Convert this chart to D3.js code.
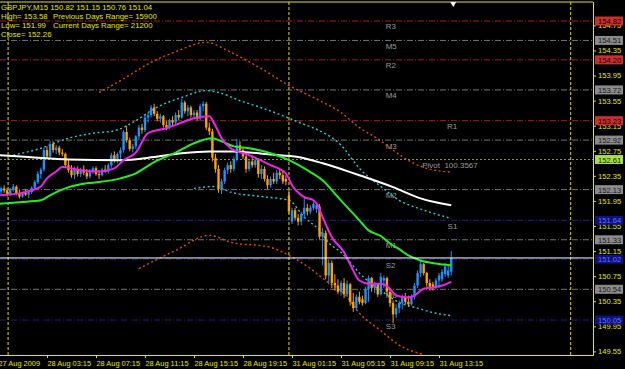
<!DOCTYPE html>
<html>
<head>
<meta charset="utf-8">
<script src="https://cdnjs.cloudflare.com/ajax/libs/d3/7.8.5/d3.min.js"></script>
<style>
html, body { margin: 0; padding: 0; background: #000; }
svg { display: block; }
text { font-family: "Liberation Sans", Arial, sans-serif; }
</style>
</head>
<body>
<svg width="625" height="369"></svg>
<script>
// GBPJPY M15 candles, bar 0 = 27 Aug 23:15, bar 148 = 31 Aug 14:15
var opens = [152.22,152.10,152.15,152.12,152.05,152.14,152.18,152.07,152.02,152.08,
  152.05,152.09,152.16,152.25,152.38,152.45,152.76,152.66,152.86,152.76,
  152.80,152.72,152.70,152.52,152.44,152.36,152.46,152.38,152.45,152.40,
  152.34,152.43,152.47,152.38,152.36,152.45,152.42,152.52,152.68,152.60,
  152.70,152.76,153.05,152.92,152.78,152.82,152.98,153.12,153.08,153.28,
  153.32,153.44,153.34,153.26,153.30,153.16,153.12,153.24,153.20,153.32,
  153.28,153.52,153.38,153.44,153.32,153.36,153.26,153.46,153.50,153.12,
  153.06,152.64,152.46,152.14,152.26,152.44,152.52,152.46,152.62,152.84,
  152.76,152.66,152.46,152.58,152.52,152.60,152.38,152.46,152.30,152.20,
  152.30,152.26,152.40,152.36,152.30,152.04,151.62,151.80,151.68,151.62,
  151.74,151.84,151.78,151.84,151.82,151.86,151.38,151.44,150.76,150.96,
  150.64,150.60,150.50,150.64,150.46,150.62,150.34,150.24,150.42,150.38,
  150.32,150.54,150.72,150.56,150.62,150.46,150.68,150.72,150.50,150.32,
  150.14,150.24,150.32,150.42,150.34,150.30,150.42,150.60,150.80,150.94,
  150.80,150.64,150.62,150.56,150.68,150.70,150.78,150.76,150.82];
var highs = [152.26,152.18,152.20,152.16,152.16,152.22,152.20,152.12,152.10,152.14,
  152.11,152.18,152.28,152.42,152.48,152.80,152.82,152.90,152.90,152.84,
  152.83,152.78,152.72,152.60,152.52,152.50,152.50,152.48,152.52,152.46,
  152.46,152.50,152.50,152.44,152.48,152.52,152.55,152.72,152.74,152.72,
  152.80,153.08,153.15,152.96,152.86,153.00,153.16,153.18,153.32,153.36,
  153.48,153.50,153.38,153.34,153.32,153.22,153.26,153.30,153.36,153.40,
  153.58,153.55,153.48,153.47,153.40,153.40,153.50,153.54,153.53,153.20,
  153.10,152.70,152.52,152.30,152.48,152.56,152.58,152.66,152.94,152.90,
  152.80,152.72,152.62,152.66,152.64,152.63,152.52,152.50,152.36,152.34,
  152.40,152.44,152.46,152.42,152.36,152.12,151.84,151.84,151.74,151.78,
  152.00,151.90,151.88,151.94,151.92,151.90,151.52,151.48,151.02,151.00,
  150.78,150.70,150.68,150.72,150.68,150.64,150.48,150.46,150.50,150.44,
  150.58,150.76,150.74,150.66,150.64,150.80,150.76,150.74,150.56,150.36,
  150.30,150.36,150.46,150.48,150.44,150.46,150.64,150.84,151.00,150.96,
  150.82,150.70,150.66,150.72,150.80,150.86,150.96,150.92,151.15];
var lows = [152.07,152.06,152.08,152.02,152.03,152.10,152.04,151.99,152.00,152.03,
  152.00,152.06,152.13,152.22,152.30,152.42,152.62,152.62,152.72,152.70,
  152.68,152.66,152.48,152.40,152.32,152.30,152.34,152.33,152.36,152.30,
  152.31,152.38,152.35,152.30,152.34,152.40,152.38,152.48,152.56,152.55,
  152.62,152.72,152.88,152.74,152.72,152.78,152.92,153.02,153.05,153.20,
  153.28,153.30,153.22,153.20,153.12,153.08,153.10,153.16,153.18,153.24,
  153.26,153.34,153.30,153.28,153.26,153.22,153.24,153.38,153.08,153.00,
  152.58,152.40,152.08,152.06,152.22,152.38,152.40,152.42,152.58,152.72,
  152.62,152.40,152.42,152.48,152.48,152.32,152.30,152.26,152.14,152.16,
  152.22,152.22,152.30,152.22,152.20,151.74,151.58,151.64,151.56,151.56,
  151.68,151.72,151.74,151.80,151.76,151.34,150.92,150.70,150.62,150.56,
  150.52,150.46,150.44,150.40,150.42,150.28,150.18,150.20,150.30,150.28,
  150.30,150.34,150.50,150.48,150.42,150.44,150.56,150.44,150.26,150.00,
  150.08,150.16,150.22,150.30,150.26,150.28,150.38,150.56,150.74,150.76,
  150.58,150.52,150.52,150.54,150.56,150.66,150.74,150.72,150.76];
var closes = [152.10,152.15,152.12,152.05,152.14,152.18,152.07,152.02,152.08,152.05,
  152.09,152.16,152.25,152.38,152.45,152.76,152.66,152.86,152.76,152.80,
  152.72,152.70,152.52,152.44,152.36,152.46,152.38,152.45,152.40,152.34,
  152.43,152.47,152.38,152.36,152.45,152.42,152.52,152.68,152.60,152.70,
  152.76,153.05,152.92,152.78,152.82,152.98,153.12,153.08,153.28,153.32,
  153.44,153.34,153.26,153.30,153.16,153.12,153.24,153.20,153.32,153.28,
  153.52,153.38,153.44,153.32,153.36,153.26,153.46,153.50,153.12,153.06,
  152.64,152.46,152.14,152.26,152.44,152.52,152.46,152.62,152.84,152.76,
  152.66,152.46,152.58,152.52,152.60,152.38,152.46,152.30,152.20,152.30,
  152.26,152.40,152.36,152.26,152.26,151.78,151.80,151.68,151.62,151.74,
  151.84,151.78,151.84,151.90,151.88,151.38,151.44,150.76,150.96,150.64,
  150.60,150.50,150.64,150.46,150.62,150.34,150.24,150.42,150.34,150.32,
  150.54,150.72,150.56,150.62,150.46,150.74,150.72,150.50,150.32,150.14,
  150.24,150.32,150.42,150.34,150.30,150.42,150.60,150.80,150.94,150.80,
  150.64,150.58,150.56,150.68,150.76,150.82,150.90,150.84,151.04];

// indicator lines, read as [bar, price]
var maFast = [[0,152.04],[7,152.07],[11,152.12],[14,152.18],[16,152.31],[19,152.42],[21,152.49],[27,152.44],[33,152.42],[38,152.47],[41,152.60],[45,152.72],[49,153.03],[55,153.11],[60,153.20],[64,153.27],[69,153.30],[71,153.15],[73,152.95],[76,152.79],[82,152.68],[89,152.52],[94,152.39],[96,152.20],[100,152.01],[103,151.96],[104,151.91],[106,151.69],[109,151.37],[113,151.13],[115,150.94],[118,150.68],[121,150.63],[125,150.63],[128,150.55],[130,150.44],[134,150.41],[136,150.44],[139,150.55],[142,150.57],[145,150.60],[148,150.66]];
var maMid = [[0,151.90],[7,151.93],[14,151.96],[17,152.04],[22,152.15],[29,152.23],[33,152.25],[40,152.31],[45,152.39],[51,152.57],[58,152.72],[64,152.87],[70,152.95],[73,152.90],[77,152.82],[82,152.79],[89,152.71],[95,152.60],[102,152.41],[106,152.28],[111,152.01],[115,151.80],[118,151.64],[121,151.48],[125,151.39],[128,151.27],[131,151.18],[134,151.08],[138,151.00],[143,150.95],[148,150.92]];
var maSlow = [[0,152.68],[10,152.65],[23,152.61],[40,152.60],[51,152.65],[60,152.71],[69,152.74],[77,152.74],[89,152.69],[98,152.65],[106,152.55],[115,152.41],[118,152.36],[129,152.17],[138,151.99],[148,151.88]];
var envInnerUp = [[5,152.68],[14,152.79],[23,152.95],[31,153.03],[38,153.07],[45,153.23],[51,153.42],[60,153.60],[68,153.71],[72,153.68],[79,153.55],[87,153.42],[95,153.27],[100,153.17],[105,153.07],[112,152.84],[118,152.47],[125,152.18],[131,151.96],[138,151.82],[148,151.67]];
var envInnerDn = [[64,152.15],[71,152.18],[76,152.09],[86,152.02],[95,151.96],[100,151.69],[105,151.48],[108,151.28],[112,151.13],[115,150.97],[118,150.80],[125,150.52],[131,150.33],[137,150.24],[142,150.17],[148,150.12]];
var envOuterUp = [[33,153.68],[40,153.87],[50,154.16],[59,154.35],[68,154.48],[76,154.32],[86,154.06],[95,153.79],[105,153.55],[112,153.36],[118,153.12],[124,152.94],[129,152.76],[135,152.57],[140,152.47],[148,152.41]];
var envOuterDn = [[46,150.87],[58,151.16],[69,151.40],[76,151.29],[89,151.21],[95,151.08],[102,150.87],[107,150.68],[113,150.47],[118,150.16],[125,149.88],[131,149.65],[139,149.50]];

// pivot levels
var pivotNames = ["R3","M5","R2","M4","R1","M3","Pivot","M2","S1","M1","S2","M0","S3"];
var pivotValues = [154.82,154.51,154.20,153.72,153.23,152.92,152.61,152.13,151.64,151.33,151.02,150.54,150.05];

var priceTicks = [154.75,154.35,153.95,153.55,153.15,152.75,152.35,151.95,151.55,151.15,150.75,150.35,149.95,149.55];
var timeTickBars = [0,16,32,48,64,80,96,112,128,144];
var timeTickLabels = ["27 Aug 2009","28 Aug 03:15","28 Aug 07:15","28 Aug 11:15","28 Aug 15:15","28 Aug 19:15","31 Aug 01:15","31 Aug 05:15","31 Aug 09:15","31 Aug 13:15"];
var daySeparators = [3.3, 95, 187];
var bidPrice = 151.04;

var infoLines = [
  ["GBPJPY,M15  150.82 151.15 150.76 151.04", ""],
  ["High= 153.58", "Previous Days Range= 15900"],
  ["Low= 151.99", "Current Days Range= 21200"],
  ["Close= 152.26", ""]
];

var svg = d3.select("svg"),
    W = 625, H = 369,
    plotRight = 593, plotTop = 2, plotBottom = 355;

var fg = "#e6e600";

svg.append("rect").attr("width", W).attr("height", H).attr("fill", "#000");

var x = d3.scaleLinear().domain([0, 148]).range([-2, 451.25]);
var y = d3.scaleLinear().domain([149.492, 155.123]).range([plotBottom, plotTop]);

svg.append("clipPath").attr("id", "plotclip")
  .append("rect").attr("x", 0).attr("y", plotTop).attr("width", plotRight).attr("height", plotBottom - plotTop);

var plot = svg.append("g").attr("clip-path", "url(#plotclip)");

function levelKind(n) { return n === "Pivot" ? "P" : n.charAt(0); }
var lineColor = { R: "#a41e1e", M: "#737373", P: "#86a424", S: "#1e1e90" };
var lineDash = { R: "6,2,1,2", M: "6,2,1,2", P: "2,2", S: "6,2,1,2" };
var boxColor = { R: "#c83030", M: "#8a8a8a", P: "#a6e046", S: "#101080" };
var boxText = { R: "#1a0000", M: "#1a1a1a", P: "#1a1a1a", S: "#5c74ff" };
var labelBar = { R1: 146.6, S1: 146.8, Pivot: 138.5 };

// pivot lines
plot.selectAll(".pivot")
  .data(pivotValues)
  .enter().append("line")
    .attr("x1", 0).attr("x2", plotRight)
    .attr("y1", function(d) { return y(d); })
    .attr("y2", function(d) { return y(d); })
    .attr("stroke", function(d, i) { return lineColor[levelKind(pivotNames[i])]; })
    .attr("stroke-dasharray", function(d, i) { return lineDash[levelKind(pivotNames[i])]; })
    .attr("stroke-width", 1);

plot.selectAll(".pivotlabel")
  .data(pivotValues)
  .enter().append("text")
    .attr("x", function(d, i) { var b = labelBar[pivotNames[i]]; return x(b === undefined ? 126.6 : b); })
    .attr("y", function(d) { return y(d) + 8.5; })
    .attr("fill", "#9a9a9a")
    .attr("font-size", "8px")
    .text(function(d, i) { return pivotNames[i] === "Pivot" ? "Pivot  100.3567" : pivotNames[i]; })
    .style("white-space", "pre");

// day separators
plot.selectAll(".sep")
  .data(daySeparators)
  .enter().append("line")
    .attr("x1", function(d) { return x(d); })
    .attr("x2", function(d) { return x(d); })
    .attr("y1", plotTop).attr("y2", plotBottom)
    .attr("stroke", "#e0e000")
    .attr("stroke-dasharray", "3,2");

// envelopes
var line = d3.line()
  .x(function(d) { return x(d[0]); })
  .y(function(d) { return y(d[1]); })
  .curve(d3.curveMonotoneX);

[[envOuterUp, "#e2480e"], [envOuterDn, "#e2480e"], [envInnerUp, "#26ccd4"], [envInnerDn, "#26ccd4"]]
  .forEach(function(e) {
    plot.append("path").datum(e[0])
      .attr("d", line)
      .attr("fill", "none")
      .attr("stroke", e[1])
      .attr("stroke-width", 1.4)
      .attr("stroke-dasharray", "2,2.6");
  });

// candles
var bars = d3.range(closes.length);
var bull = "#1e90ff", bear = "#ffa000";
function col(i) { return closes[i] >= opens[i] ? bull : bear; }

plot.selectAll(".wick")
  .data(bars)
  .enter().append("line")
    .attr("x1", function(i) { return x(i); })
    .attr("x2", function(i) { return x(i); })
    .attr("y1", function(i) { return y(highs[i]); })
    .attr("y2", function(i) { return y(lows[i]); })
    .attr("stroke", col)
    .attr("stroke-width", 1);

plot.selectAll(".body")
  .data(bars)
  .enter().append("rect")
    .attr("x", function(i) { return x(i) - 1.2; })
    .attr("width", 2.4)
    .attr("y", function(i) { return y(Math.max(opens[i], closes[i])); })
    .attr("height", function(i) { return Math.max(1, Math.abs(y(opens[i]) - y(closes[i]))); })
    .attr("fill", col);

// moving averages
[[maSlow, "#ffffff"], [maMid, "#22ee22"], [maFast, "#ee22ee"]].forEach(function(m) {
  plot.append("path").datum(m[0])
    .attr("d", line)
    .attr("fill", "none")
    .attr("stroke", m[1])
    .attr("stroke-width", 2);
});

// bid line
plot.append("line")
  .attr("x1", 0).attr("x2", plotRight)
  .attr("y1", y(bidPrice)).attr("y2", y(bidPrice))
  .attr("stroke", "#ffffff").attr("stroke-width", 1);

// frame
svg.append("line").attr("x1", 0).attr("x2", plotRight).attr("y1", plotTop).attr("y2", plotTop)
  .attr("stroke", fg);

// right price axis
var yAxis = svg.append("g")
  .attr("transform", "translate(" + plotRight + ",0)")
  .call(d3.axisRight(y).tickValues(priceTicks).tickSize(3).tickSizeOuter(0).tickPadding(2)
        .tickFormat(d3.format(".2f")));
yAxis.select(".domain").remove();
yAxis.selectAll("line").attr("stroke", fg);
yAxis.selectAll("text").attr("fill", fg).attr("font-size", "7.6px").attr("font-family", "Liberation Sans, Arial, sans-serif");
svg.append("line").attr("x1", plotRight + 0.5).attr("x2", plotRight + 0.5)
  .attr("y1", plotTop).attr("y2", plotBottom).attr("stroke", fg);

// pivot price boxes
var boxes = svg.selectAll(".pbox")
  .data(pivotValues)
  .enter().append("g")
    .attr("transform", function(d) { return "translate(" + (plotRight + 2) + "," + y(d) + ")"; });
boxes.append("rect")
  .attr("x", 0).attr("y", -4.5).attr("width", 28).attr("height", 9)
  .attr("fill", function(d, i) { return boxColor[levelKind(pivotNames[i])]; });
boxes.append("text")
  .attr("x", 3).attr("y", 3)
  .attr("font-size", "7.6px")
  .attr("fill", function(d, i) { return boxText[levelKind(pivotNames[i])]; })
  .text(function(d) { return d3.format(".2f")(d); });

// bottom time axis
var xAxis = svg.append("g")
  .attr("transform", "translate(0," + plotBottom + ")")
  .call(d3.axisBottom(x).tickValues(timeTickBars).tickSize(3).tickSizeOuter(0).tickPadding(3)
        .tickFormat(function(d, i) { return timeTickLabels[i]; }));
xAxis.select(".domain").remove();
xAxis.selectAll("line").attr("stroke", fg);
xAxis.selectAll("text").attr("fill", fg).attr("font-size", "7.4px")
  .attr("text-anchor", "start").attr("font-family", "Liberation Sans, Arial, sans-serif");
svg.append("line").attr("x1", 0).attr("x2", plotRight + 1).attr("y1", plotBottom + 0.5).attr("y2", plotBottom + 0.5)
  .attr("stroke", fg);

// chart shift marker
var sx = x(148) + 2;
svg.append("path")
  .attr("d", "M" + (sx - 3) + "," + plotTop + "L" + (sx + 3) + "," + plotTop + "L" + sx + "," + (plotTop + 5) + "Z")
  .attr("fill", "#ffffff");

// info text, top left
var info = svg.append("g");
infoLines.forEach(function(l, i) {
  info.append("text").attr("x", 1).attr("y", 10 + i * 9)
    .attr("fill", fg).attr("font-size", "7.8px").text(l[0]);
  if (l[1]) {
    info.append("text").attr("x", 53).attr("y", 10 + i * 9)
      .attr("fill", fg).attr("font-size", "7.8px").text(l[1]);
  }
});
</script>
</body>
</html>
